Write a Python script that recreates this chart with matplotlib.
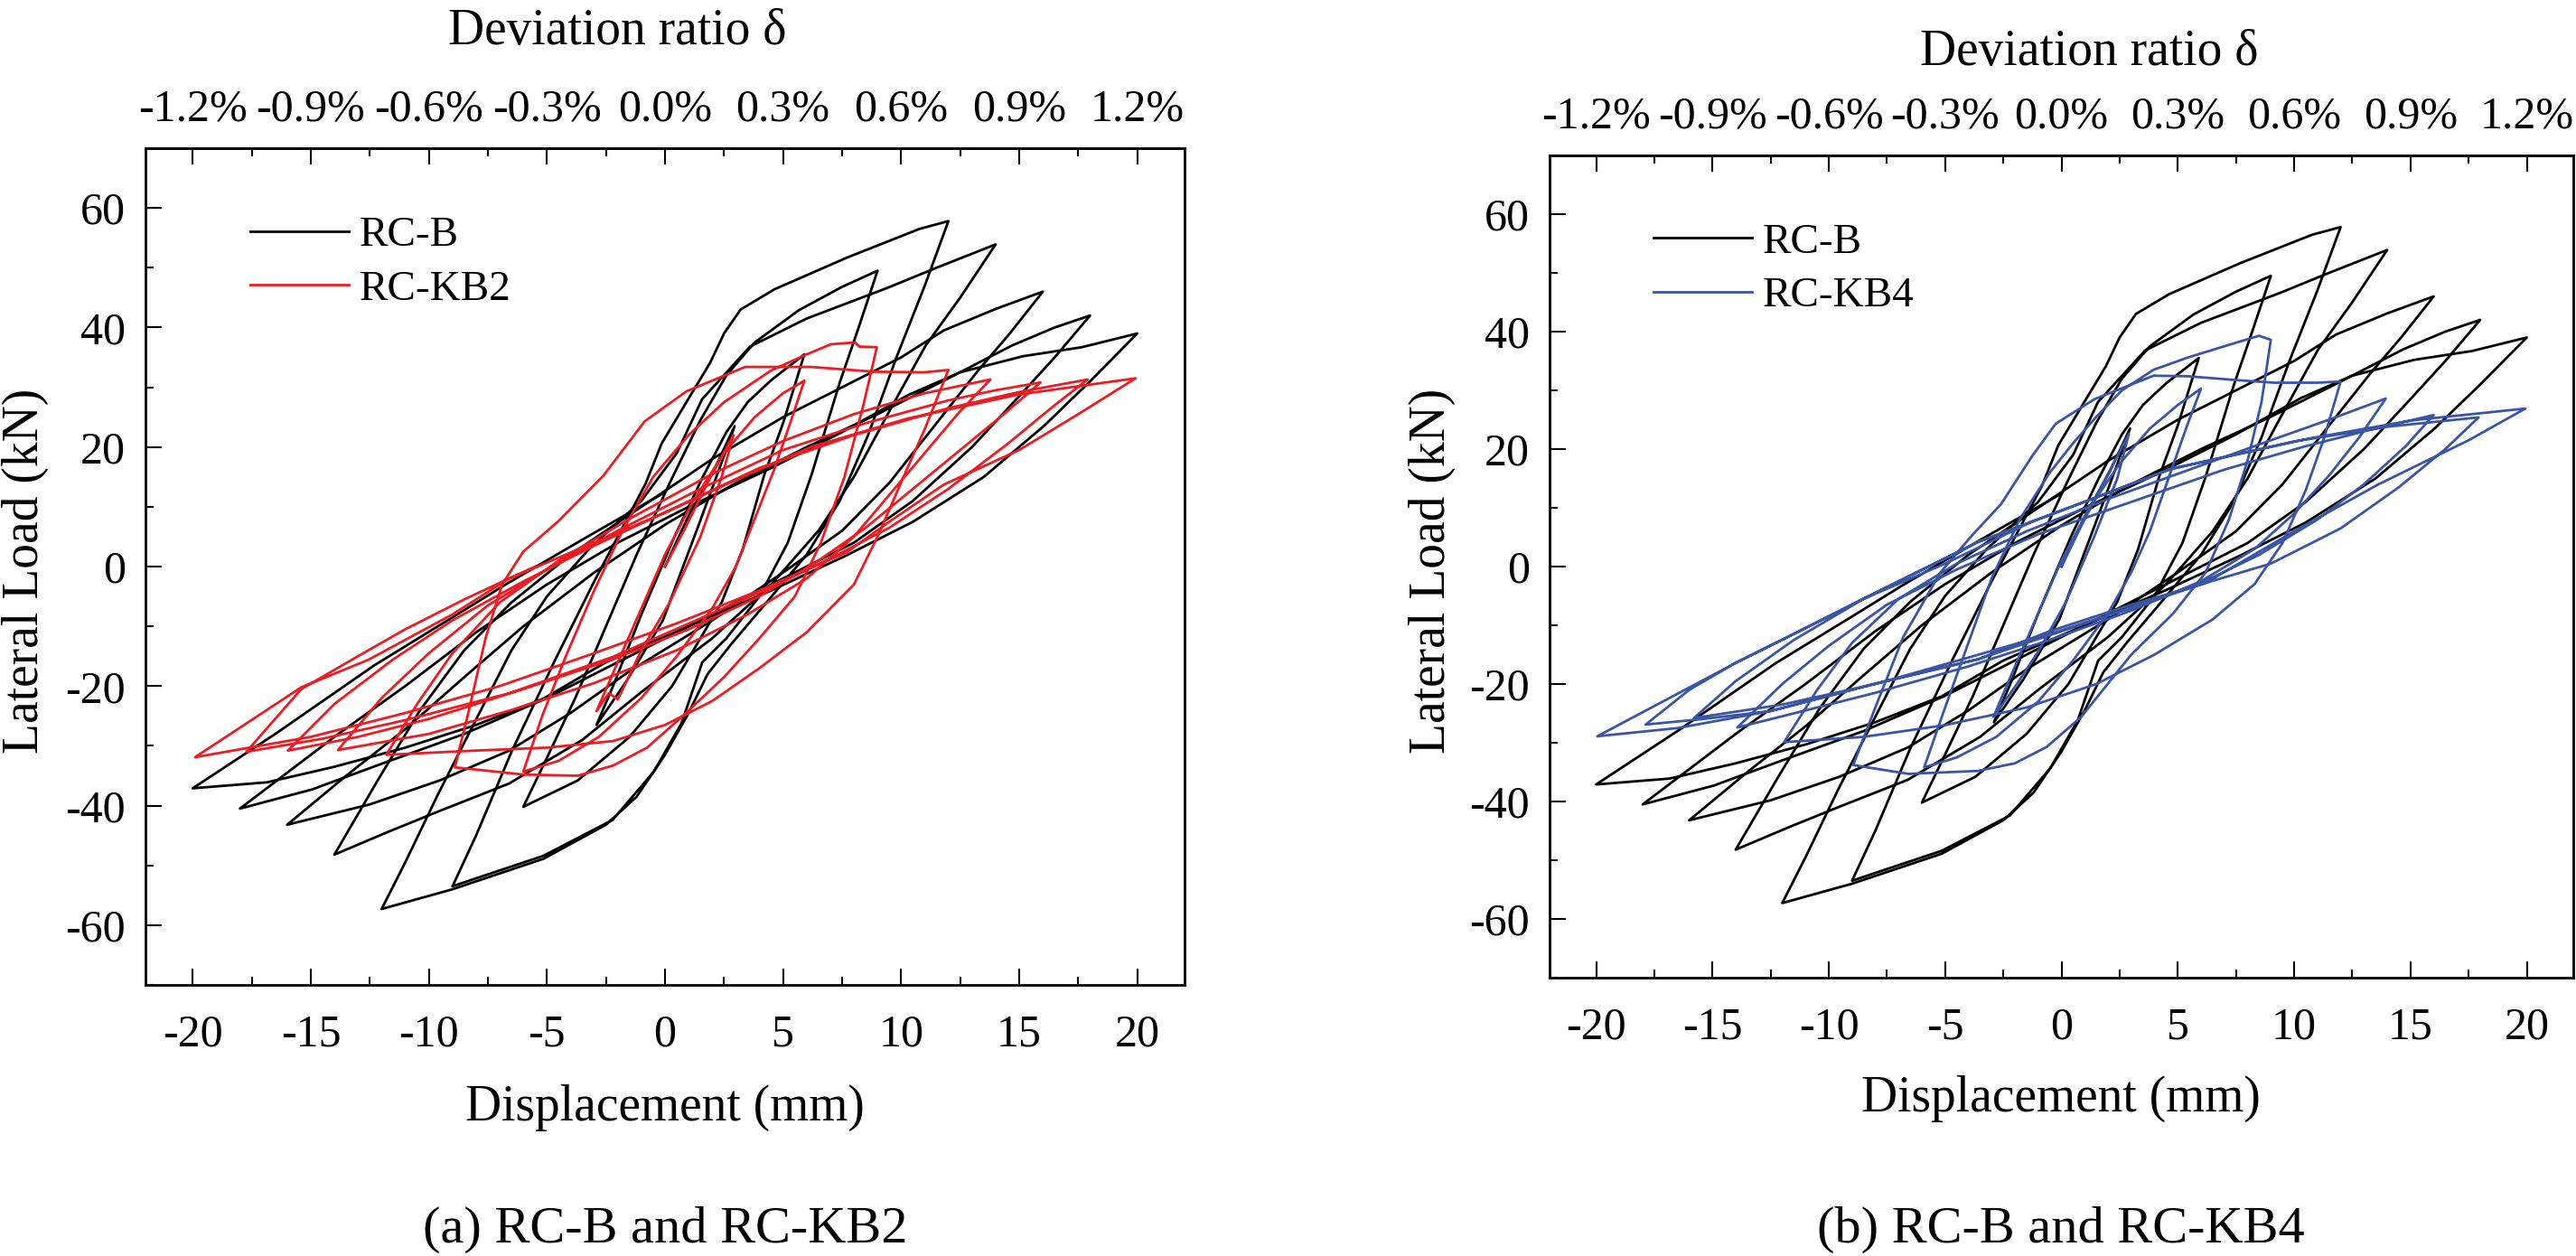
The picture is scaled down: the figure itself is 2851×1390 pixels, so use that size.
import matplotlib
matplotlib.use("Agg")
import matplotlib.pyplot as plt
from matplotlib.ticker import MultipleLocator

plt.rcParams['font.family'] = ['Liberation Serif', 'DejaVu Serif']
plt.rcParams['axes.unicode_minus'] = False

# ---------------- data (displacement mm, load kN) ----------------
rcb_pts = [
    (0, 0), (1.0, 8.5), (2.08, 16.2), (2.95, 23.5),
    (2.47, 18.2), (1.44, 7.1), (-0.09, -9.0), (-1.62, -19.1), (-2.9, -26.5),
    (-2.2, -20), (-1.0, -8), (0.4, 5), (1.6, 15), (2.6, 22.5), (3.5, 27.5), (4.5, 31.2), (5.9, 35.5),
    (5.0, 24), (4.2, 15.3), (3.3, 3), (2.4, -6), (1.5, -12), (0.3, -20), (-1.5, -28.5), (-3.7, -35.8), (-6.0, -40.2),
    (-5.0, -32), (-3.8, -22), (-2.5, -10), (-1.2, 2), (0.2, 14), (1.5, 24.5), (2.6, 32), (3.8, 37.5), (5.67, 42.9),
    (7.5, 46.8), (9.0, 49.5),
    (8.2, 40), (7.4, 30.8), (6.2, 15.3), (5.2, 4), (4.0, -5), (2.6, -12), (1.58, -16), (0.7, -26.2), (-0.47, -34.3),
    (-2.22, -42.4), (-5.15, -48.4), (-7.5, -51.5), (-9.0, -53.5),
    (-8.0, -45), (-6.5, -31), (-4.7, -16), (-3.0, -2.5), (-1.8, 6.5), (-0.83, 13.8), (-0.14, 20.6), (0.89, 27.4),
    (1.91, 34.1), (2.5, 39.0), (3.2, 43.0), (4.64, 46.4), (7.71, 51.7), (10.78, 56.5), (12.0, 57.8),
    (11.0, 47), (9.8, 35), (8.6, 22), (7.4, 11), (6.0, 2), (4.3, -6), (2.8, -13), (1.8, -18), (1.0, -24.5),
    (0.0, -31.5), (-1.2, -38.5), (-2.5, -43.2), (-5.15, -48.9), (-9.0, -54), (-12.0, -57.3),
    (-11.0, -49.5), (-9.6, -38), (-8.08, -26.2), (-6.5, -14), (-5.0, -5), (-3.2, 3), (-1.0, 11), (0.5, 19),
    (1.57, 28), (3.6, 36.8), (6.0, 41.5), (9.4, 46.6), (11.5, 50), (14.0, 53.9),
    (12.5, 45), (11.04, 37), (9.5, 26), (8.0, 15), (6.5, 6), (4.5, -3), (2.0, -12), (-1.0, -21), (-3.5, -29),
    (-6.6, -36.3), (-9.55, -40.9), (-11.73, -44.4), (-14.0, -48.2),
    (-12.2, -36), (-10.4, -24.2), (-8.5, -14), (-6.5, -6), (-4.0, 2), (-1.0, 10), (2.0, 18), (5.0, 25), (8.0, 31),
    (10.0, 35), (11.8, 39.5), (14.0, 43.1), (16.0, 46.0),
    (14.6, 39), (13.26, 32.8), (11.5, 24), (9.5, 14), (7.5, 6), (5.0, -1), (2.0, -9), (-1.5, -17.5), (-4.0, -24.5),
    (-6.6, -30.8), (-9.55, -35.8), (-12.5, -39.8), (-16.0, -43.2),
    (-13.5, -35), (-11.0, -27.2), (-8.5, -18.5), (-6.0, -10), (-3.0, -1), (0.0, 7), (3.0, 14), (6.0, 20), (9.0, 25.5),
    (12.0, 31.5), (14.7, 37), (16.5, 40), (18.0, 42.0),
    (16.5, 35), (15.0, 28.5), (13.0, 20), (10.5, 11), (8.0, 4), (5.0, -2), (1.5, -9), (-2.0, -16), (-5.0, -22),
    (-8.5, -28), (-12.0, -33), (-14.95, -37.3), (-18.0, -40.5),
    (-16.0, -34.5), (-13.9, -28.2), (-11.0, -20), (-8.0, -11), (-5.0, -3), (-2.0, 4), (1.0, 10), (4.5, 16.5),
    (7.5, 22.5), (10.3, 28.7), (12.5, 32.5), (15.17, 35.2), (17.65, 36.7), (20.0, 39.0),
    (18.0, 31), (16.04, 23.5), (13.5, 15), (10.5, 7.5), (7.7, 1.9), (4.5, -4), (1.0, -10), (-2.5, -16), (-5.15, -22.1),
    (-8.0, -26.5), (-11.0, -30.3), (-14.0, -33.5), (-16.85, -36.1), (-20.0, -37.1),
    (-16.5, -28), (-12.3, -16.5), (-9.0, -8.5), (-6.75, -3), (-3.5, 4.5), (-0.1, 12.2),
]

kb2_pts = [
    (0, 0), (0.8, 6), (1.8, 14), (2.9, 22),
    (2.4, 15), (1.5, 5), (0.2, -6), (-1.0, -14), (-1.87, -21.2), (-2.0, -22.2), (-2.38, -21.2), (-2.9, -24.2),
    (-2.0, -16), (-1.0, -7), (0.0, 2), (1.2, 11), (2.5, 19), (3.8, 25), (5.0, 29), (5.9, 31.1),
    (5.3, 24), (4.6, 16), (3.8, 8), (3.0, 0), (2.0, -7), (0.5, -15), (-1.0, -22), (-2.8, -28.5), (-4.5, -32.5), (-6.0, -34.3),
    (-5.2, -25), (-4.2, -15), (-3.0, -4), (-1.8, 6), (-0.5, 15), (1.0, 22), (2.5, 27.5), (4.49, 32.8), (6.0, 35.5),
    (7.03, 37.2), (8.05, 37.5), (8.23, 36.8), (8.97, 36.7),
    (8.4, 27), (7.6, 15), (6.6, 4), (5.5, -5), (4.0, -12), (2.5, -18.5), (0.7, -25.2), (-0.76, -30.3), (-2.2, -33.3),
    (-3.7, -35.0), (-6.0, -34.8), (-8.9, -33.6),
    (-8.3, -24), (-7.6, -12), (-6.9, -3), (-6.0, 2.5), (-4.51, 7.6), (-2.61, 15.2), (-0.86, 24.3), (0.9, 29.3),
    (3.39, 33.4), (6.17, 33.4), (8.88, 32.6), (11.0, 32.5), (12.0, 32.9),
    (11.0, 23), (10.1, 15), (9.0, 5), (8.0, -3), (6.0, -11), (4.0, -17), (2.0, -22.5), (0.0, -26.5), (-2.2, -29.2),
    (-5.0, -30.3), (-8.08, -30.8), (-11.8, -31.5),
    (-10.5, -23), (-9.0, -14.5), (-7.0, -6), (-4.5, 1), (-1.5, 8), (2.0, 15.5), (5.0, 21), (8.0, 25.5), (11.0, 29),
    (13.78, 31.3),
    (12.5, 26), (11.0, 19), (9.5, 12), (8.0, 5), (6.0, -2), (3.5, -8), (0.5, -14), (-3.0, -19.5), (-6.5, -24),
    (-10.0, -28), (-13.85, -30.7),
    (-12.0, -22), (-10.0, -14.5), (-7.5, -6.5), (-5.0, -0.5), (-2.0, 6), (1.5, 13), (5.0, 19.5), (8.5, 24),
    (12.0, 27.8), (14.0, 29.5), (15.9, 30.8),
    (14.5, 26), (12.5, 19.5), (10.5, 13), (8.5, 6.5), (6.5, 1), (4.0, -5), (1.0, -10.5), (-2.2, -15.5), (-6.0, -20.5),
    (-10.0, -25.5), (-13.0, -28.5), (-15.97, -30.8),
    (-14.0, -23), (-11.5, -15.5), (-9.0, -9), (-6.0, -2.5), (-3.0, 3.5), (0.5, 10), (4.0, 16.5), (8.0, 22),
    (12.0, 26.5), (15.0, 29.2), (17.9, 31.3),
    (16.5, 27), (14.5, 20.5), (12.0, 13), (9.5, 6.5), (7.5, 2.4), (4.5, -3.5), (1.6, -8.5), (-2.2, -15.1), (-6.6, -21.2),
    (-11.0, -25.7), (-14.5, -28.8), (-17.73, -31.0),
    (-15.4, -20.5), (-13.0, -15), (-11.0, -10.5), (-8.5, -5.5), (-6.6, -2), (-3.0, 4), (0.0, 9), (3.0, 14.5),
    (6.17, 20), (10.3, 24.8), (15.0, 28.8), (19.93, 31.5),
    (17.5, 25.5), (15.0, 19.5), (11.8, 13.7), (9.5, 7.5), (7.7, 2.4), (4.0, -4), (0.5, -9.5), (-3.0, -14.5), (-7.0, -20),
    (-11.0, -24.5), (-15.0, -28.5), (-19.9, -31.9),
    (-15.4, -20.2), (-12.56, -15.6), (-9.0, -8), (-6.6, -2), (-5.5, 0),
]

kb4_pts = [
    (0, 0), (0.8, 6.5), (1.9, 15), (2.9, 22.6),
    (2.4, 15), (1.4, 5), (0.2, -6), (-1.0, -14.5), (-2.0, -20.5), (-2.92, -25.6),
    (-2.0, -17), (-1.0, -8), (0.0, 1), (1.2, 10), (2.5, 17.5), (3.8, 23.5), (5.0, 27.5), (6.0, 30.3),
    (5.4, 24), (4.6, 15), (3.8, 6), (3.0, -1), (2.0, -8), (0.5, -16), (-1.0, -23), (-2.8, -29), (-4.5, -32.5), (-5.9, -34.2),
    (-5.0, -24), (-4.0, -13), (-3.0, -2), (-1.8, 8), (-0.5, 16), (0.5, 21), (1.5, 25.5), (2.6, 30), (3.96, 33.5),
    (5.44, 35.6), (7.08, 37.6), (8.5, 39.3), (9.0, 38.6),
    (8.6, 28), (8.0, 18), (7.2, 8), (6.2, -1), (4.8, -8), (3.0, -15), (0.85, -25.6), (-0.63, -30.7), (-2.0, -33.5),
    (-3.6, -34.8), (-6.58, -35.3), (-8.95, -33.8),
    (-8.0, -24), (-6.8, -12), (-5.2, -1), (-3.8, 5.5), (-2.6, 10.6), (-1.26, 18.8), (-0.25, 24.3), (1.42, 28.5),
    (3.96, 32.5), (5.44, 32.4), (7.67, 31.7), (9.17, 31.3), (11.0, 31.3), (12.0, 31.5),
    (11.3, 22), (10.5, 13), (9.5, 4), (8.3, -3), (6.5, -9), (4.0, -15), (1.5, -20), (-1.5, -24), (-5.0, -27),
    (-8.5, -29), (-11.92, -29.9),
    (-10.5, -21), (-9.0, -13), (-7.0, -5.5), (-4.5, 0.5), (-1.5, 6), (2.0, 11.5), (5.5, 16.5), (9.0, 21.5), (11.5, 25),
    (13.94, 28.6),
    (12.8, 22), (11.5, 15.5), (10.0, 9), (8.3, 3), (6.0, -2.5), (3.0, -7.5), (-0.5, -12.5), (-4.0, -17), (-8.0, -21.5),
    (-11.0, -24.5), (-13.93, -27.4),
    (-12.0, -20), (-10.0, -13.5), (-7.5, -6.5), (-4.5, -0.5), (-1.0, 5.5), (3.0, 11), (7.0, 16.5), (10.5, 20.5),
    (13.5, 23.5), (16.0, 25.8),
    (14.8, 20.5), (13.0, 14), (11.0, 8), (8.5, 2), (6.0, -2.8), (3.0, -7), (-0.5, -11.5), (-4.0, -15.5), (-8.0, -20),
    (-12.0, -23.5), (-15.8, -25.8),
    (-14.0, -19.5), (-11.5, -12.5), (-8.5, -5.5), (-5.0, 0.5), (-1.24, 7.7), (4.69, 16.6), (10.0, 21.3), (14.0, 23.8),
    (17.93, 25.4),
    (16.5, 20), (14.5, 13.5), (12.0, 6.5), (9.0, 0.5), (6.19, -2.8), (3.0, -6.5), (-0.5, -11), (-3.6, -15.8),
    (-8.06, -20), (-12.5, -24.6), (-15.5, -26), (-17.87, -26.9),
    (-16.0, -21), (-14.0, -16.4), (-11.0, -10.5), (-8.06, -4.6), (-3.6, 4.15), (1.0, 11), (4.69, 16.6), (10.64, 21.8),
    (15.1, 24.9), (19.94, 26.9),
    (17.5, 21.5), (13.6, 13.95), (10.0, 6), (6.19, -2.8), (1.75, -8.7), (-3.6, -15.8), (-8.06, -20), (-12.5, -24.6),
    (-16.5, -27.5), (-19.95, -28.9),
    (-14.0, -16.4), (-8.06, -4.6), (-3.6, 4.15), (-1.24, 7.7),
]

x_ticks = [-20, -15, -10, -5, 0, 5, 10, 15, 20]
drift_labels = ['-1.2%', '-0.9%', '-0.6%', '-0.3%', '0.0%', '0.3%', '0.6%', '0.9%', '1.2%']
y_ticks = [-60, -40, -20, 0, 20, 40, 60]
series_names = ['RC-B', 'RC-KB2', 'RC-KB4']
captions = ['(a) RC-B and RC-KB2', '(b) RC-B and RC-KB4']

BLACK = '#000000'
RED = '#EC1C24'
BLUE = '#3A55A4'

W, H = 2851, 1390
fig = plt.figure(figsize=(W / 100, H / 100), dpi=100)

def px_axes(l, t, r, b):
    return fig.add_axes([l / W, 1 - b / H, (r - l) / W, (b - t) / H])

def style(ax):
    ax.set_xlim(-22, 22)
    ax.set_ylim(-70, 70)
    ax.set_xticks(x_ticks)
    ax.set_xticklabels([str(v) for v in x_ticks])
    ax.set_yticks(y_ticks)
    ax.set_yticklabels([str(v) for v in y_ticks])
    ax.xaxis.set_minor_locator(MultipleLocator(2.5))
    ax.yaxis.set_minor_locator(MultipleLocator(10))
    for s in ax.spines.values():
        s.set_linewidth(2.0)
    ax.tick_params(axis='x', which='major', direction='in', length=13, width=1.5,
                   labelsize=36, pad=23, top=False, right=False)
    ax.tick_params(axis='x', which='minor', direction='in', length=6.5, width=1.5, top=False)
    ax.tick_params(axis='y', which='major', direction='in', length=13, width=1.5,
                   labelsize=36, pad=16, right=False)
    ax.tick_params(axis='y', which='minor', direction='in', length=6.5, width=1.5, right=False)
    sec = ax.secondary_xaxis('top')
    sec.set_xticks(x_ticks)
    sec.set_xticklabels(drift_labels)
    sec.xaxis.set_minor_locator(MultipleLocator(2.5))
    sec.tick_params(axis='x', which='major', direction='in', length=13, width=1.5, labelsize=36, pad=14)
    sec.tick_params(axis='x', which='minor', direction='in', length=6.5, width=1.5)
    sec.spines['top'].set_linewidth(2.0)

def draw(ax, pts, color, label):
    xs = [p[0] for p in pts]
    ys = [p[1] for p in pts]
    ax.plot(xs, ys, color=color, lw=2.0, label=label, solid_joinstyle='round')

# left panel
axL = px_axes(161, 164, 1311, 1090)
draw(axL, rcb_pts, BLACK, series_names[0])
draw(axL, kb2_pts, RED, series_names[1])
style(axL)
axL.legend(loc='upper left', bbox_to_anchor=(0.1009, 0.9186), frameon=False, fontsize=34,
           handlelength=2.3, handletextpad=0.25, labelspacing=0.35, borderpad=0, borderaxespad=0)

# right panel
axR = px_axes(1715, 172, 2848, 1082)
draw(axR, rcb_pts, BLACK, series_names[0])
draw(axR, kb4_pts, BLUE, series_names[2])
style(axR)
axR.legend(loc='upper left', bbox_to_anchor=(0.1015, 0.918), frameon=False, fontsize=34,
           handlelength=2.3, handletextpad=0.25, labelspacing=0.35, borderpad=0, borderaxespad=0)

def ftext(x, y, s, **kw):
    fig.text(x / W, 1 - y / H, s, **kw)

ftext(683, 49, 'Deviation ratio δ', fontsize=40, ha='center', va='baseline')
ftext(2312, 72, 'Deviation ratio δ', fontsize=40, ha='center', va='baseline')
ftext(28, 632, 'Lateral Load (kN)', fontsize=40, rotation=90, ha='center', va='center')
ftext(1585, 632, 'Lateral Load (kN)', fontsize=40, rotation=90, ha='center', va='center')
ftext(736, 1240, 'Displacement (mm)', fontsize=40, ha='center', va='baseline')
ftext(2281, 1230, 'Displacement (mm)', fontsize=40, ha='center', va='baseline')
ftext(736, 1375, captions[0], fontsize=42, ha='center', va='baseline')
ftext(2281, 1375, captions[1], fontsize=42, ha='center', va='baseline')

fig.savefig('out.png', dpi=100)
